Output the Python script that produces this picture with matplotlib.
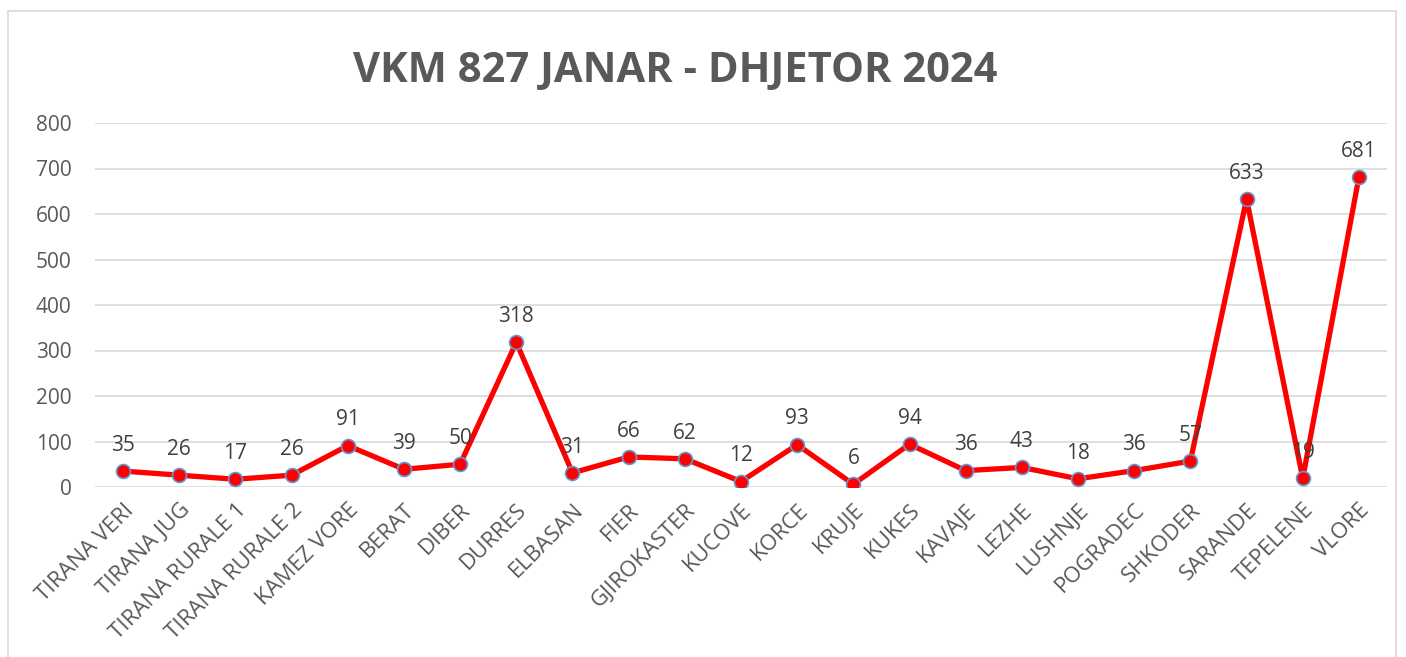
import matplotlib.pyplot as plt
from matplotlib.patches import Rectangle

categories = ["TIRANA VERI", "TIRANA JUG", "TIRANA RURALE 1", "TIRANA RURALE 2",
              "KAMEZ VORE", "BERAT", "DIBER", "DURRES", "ELBASAN", "FIER",
              "GJIROKASTER", "KUCOVE", "KORCE", "KRUJE", "KUKES", "KAVAJE",
              "LEZHE", "LUSHNJE", "POGRADEC", "SHKODER", "SARANDE", "TEPELENE",
              "VLORE"]
values = [35, 26, 17, 26, 91, 39, 50, 318, 31, 66, 62, 12, 93, 6, 94, 36,
          43, 18, 36, 57, 633, 19, 681]
yticks = [0, 100, 200, 300, 400, 500, 600, 700, 800]

grey = '#595959'
plt.rcParams['font.family'] = ['Open Sans', 'DejaVu Sans']

fig = plt.figure(figsize=(14.06, 6.57), dpi=100)
fig.patches.append(Rectangle((8 / 1406, -0.01), 1388 / 1406, 1 - 11 / 657 + 0.01,
                             transform=fig.transFigure, fill=False,
                             edgecolor='#d9d9d9', linewidth=1.2))
ax = fig.add_axes([95 / 1406, 1 - 487 / 657, 1292 / 1406, 364 / 657])

x = list(range(len(categories)))
ax.plot(x, values, color='#ff0000', linewidth=3.8, marker='o', markersize=10,
        markerfacecolor='#ff0000', markeredgecolor='#5b9bd5', markeredgewidth=1.2,
        zorder=3)
for xi, v in zip(x, values):
    ax.annotate(str(v), (xi, v), xytext=(0, 11), textcoords='offset points',
                ha='center', va='bottom', fontsize=15, color='#404040')

ax.set_xlim(-0.5, len(categories) - 0.5)
ax.set_ylim(0, 800)
ax.set_yticks(yticks)
ax.grid(axis='y', color='#d9d9d9', linewidth=1.2)
ax.set_axisbelow(True)
for s in ax.spines.values():
    s.set_visible(False)
ax.tick_params(axis='both', length=0, colors=grey, labelsize=15)
ax.tick_params(axis='y', pad=17)
ax.set_xticks(x)
ax.set_xticklabels(categories, rotation=45, ha='right', rotation_mode='anchor',
                   fontsize=16)
ax.tick_params(axis='x', pad=9)

fig.text(675 / 1406, 1 - 72 / 657, 'VKM 827 JANAR - DHJETOR 2024', ha='center',
         va='center', fontsize=30, fontweight='bold', color=grey)

fig.savefig('out.png', dpi=100)
